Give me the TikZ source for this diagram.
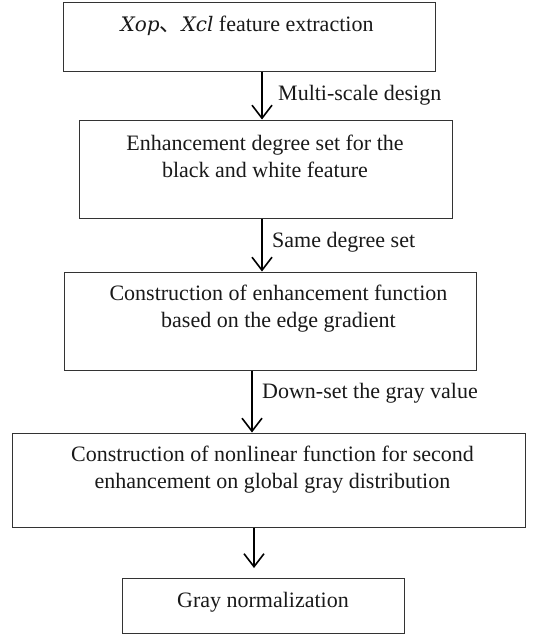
\documentclass[tikz,border=0pt]{standalone}
\usepackage{fontspec}
\setmainfont{Liberation Serif}
\newfontfamily\cjk{Noto Sans CJK SC}
\newfontfamily\varfont{DejaVu Serif}
\usetikzlibrary{arrows.meta}
\begin{document}
\begin{tikzpicture}[x=1pt,y=-1pt,
  box/.style={draw=black!80,line width=1pt,rectangle,inner sep=0pt},
  txt/.style={align=center,inner sep=0pt,font=\fontsize{22}{27}\selectfont,text=black!90},
  lbl/.style={anchor=west,inner sep=0pt,font=\fontsize{22}{27}\selectfont,text=black!90},
  arr/.style={line width=1.6pt,-{Straight Barb[length=13pt,width=20pt,line width=1.6pt]}}]
\useasboundingbox (0,0) rectangle (542,635);
\node[box,minimum width=372pt,minimum height=69pt] (b1) at (249,36.5) {};
\node[txt] (t1) at (247,26) {{\varfont\fontsize{20}{27}\selectfont\itshape Xop}{\cjk 、}{\varfont\fontsize{20}{27}\selectfont\itshape Xcl} feature extraction};
\node[box,minimum width=373pt,minimum height=98pt] (b2) at (265.5,169) {};
\node[txt] (t2) at (265,156.5) {Enhancement degree set for the\\black and white feature};
\node[box,minimum width=412pt,minimum height=98pt] (b3) at (270,321) {};
\node[txt] (t3) at (278.5,308.5) {Construction of enhancement function\\based on the edge gradient};
\node[box,minimum width=513pt,minimum height=94pt] (b4) at (268.5,480) {};
\node[txt] (t4) at (272.5,470) {Construction of nonlinear function for second\\enhancement on global gray distribution};
\node[box,minimum width=282pt,minimum height=55pt] (b5) at (263,605.5) {};
\node[txt] (t5) at (263,602) {Gray normalization};
\coordinate (e4) at (254,568);
\draw[arr] ([xshift=13pt]b1.south) -- ([xshift=-3.5pt]b2.north);
\draw[arr] ([xshift=-3.5pt]b2.south) -- ([xshift=-8pt]b3.north);
\draw[arr] ([xshift=-18pt]b3.south) -- ([xshift=-16.5pt]b4.north);
\draw[arr] ([xshift=-14.5pt]b4.south) -- (e4);
\node[lbl] (l1) at (278,95) {Multi-scale design};
\node[lbl] (l2) at (272,242) {Same degree set};
\node[lbl] (l3) at (262,393) {Down-set the gray value};
\end{tikzpicture}
\end{document}
